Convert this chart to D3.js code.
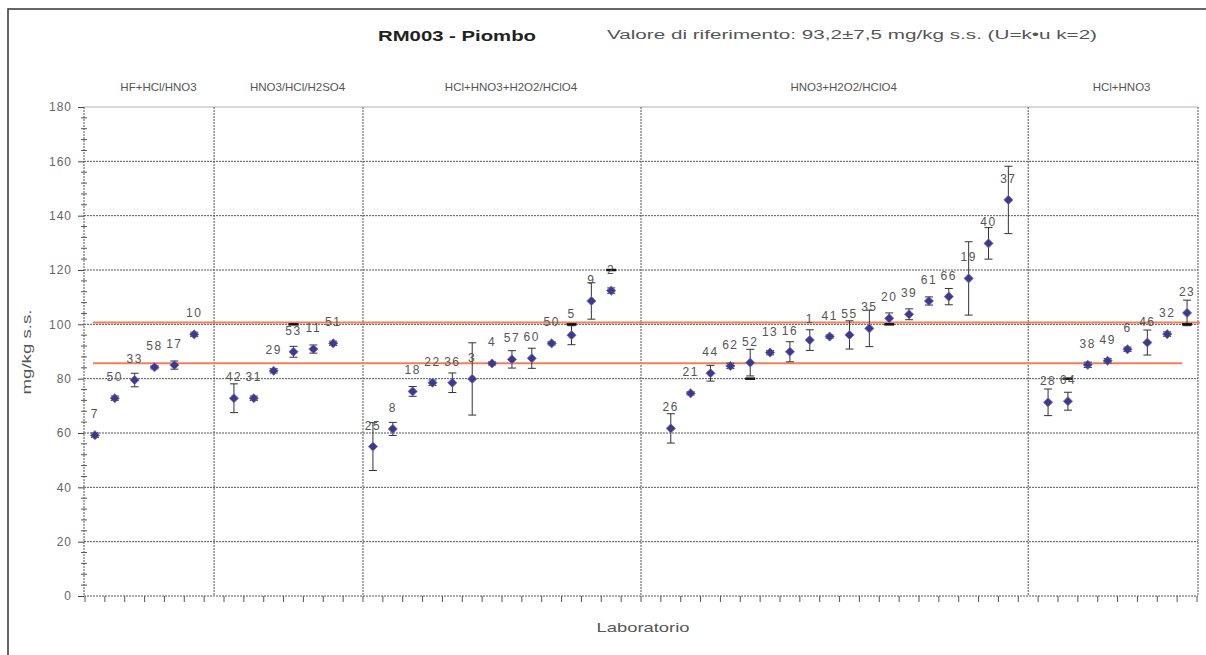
<!DOCTYPE html>
<html>
<head>
<meta charset="utf-8">
<script src="https://cdn.jsdelivr.net/npm/d3@7"></script>
<style>
  html, body { margin: 0; padding: 0; background: #fff; }
  svg { display: block; }
  text { font-family: "Liberation Sans", Arial, sans-serif; }
</style>
</head>
<body>
<svg id="chart" width="1206" height="655"></svg>
<script>
// Digestion methods, in the order they appear along the axis
const methods = ["HF+HCl/HNO3", "HNO3/HCl/H2SO4", "HCl+HNO3+H2O2/HClO4", "HNO3+H2O2/HClO4", "HCl+HNO3"];

// One entry per category slot on the x axis ("" = empty slot between methods)
const labs = [
  "7", "50", "33", "58", "17", "10", "",
  "42", "31", "29", "53", "11", "51", "",
  "25", "8", "18", "22", "36", "3", "4", "57", "60", "50", "5", "9", "2", "", "",
  "26", "21", "44", "62", "52", "13", "16", "1", "41", "55", "35", "20", "39", "61", "66", "19", "40", "37", "",
  "28", "64", "38", "49", "6", "46", "32", "23"
];

// Lead results, mg/kg s.s.
const values = [
  59.2, 72.8, 79.5, 84.2, 85.0, 96.3, null,
  72.8, 72.8, 82.9, 89.9, 90.9, 93.0, null,
  55.0, 61.5, 75.3, 78.5, 78.5, 79.9, 85.6, 87.1, 87.5, 93.0, 96.0, 108.6, 112.4, null, null,
  61.7, 74.6, 82.0, 84.7, 85.9, 89.6, 89.9, 94.2, 95.5, 96.1, 98.5, 102.2, 103.7, 108.6, 110.2, 116.9, 129.8, 145.8, null,
  71.3, 71.7, 85.1, 86.6, 90.8, 93.3, 96.4, 104.2
];

// Expanded uncertainties, mg/kg s.s.
const uncertainties = [
  0.8, 0.8, 2.5, 0.6, 1.5, 0.8, null,
  5.3, 0.8, 0.8, 2.0, 1.5, 0.8, null,
  8.8, 2.4, 1.8, 1.0, 3.6, 13.3, 0.6, 3.2, 3.7, 0.6, 3.5, 6.7, 1.0, null, null,
  5.4, 0.6, 2.9, 1.0, 4.9, 0.8, 3.7, 3.8, 0.6, 5.2, 6.7, 2.0, 2.0, 1.5, 3.0, 13.5, 5.8, 12.4, null,
  4.9, 3.3, 1.0, 0.8, 0.8, 4.6, 0.8, 4.7
];

// Short black marks drawn on some results
const flagLabs = ["53", "5", "2", "52", "20", "23", "64"];
const flagValues = [100, 100, 120, 80, 100, 100, 80];

// Method dividers, in slot units
const dividers = [6, 13.5, 27.5, 47];

// Reference value and its interval
const refValue = 93.2;
const refU = 7.5;

const yTicks = [0, 20, 40, 60, 80, 100, 120, 140, 160, 180];

const svg = d3.select("#chart");
const W = 1206, H = 655;
const plotL = 85, plotR = 1197, plotT = 107, plotB = 596;

const x = d3.scaleLinear().domain([-0.5, labs.length - 0.5]).range([plotL, plotR]);
const y = d3.scaleLinear().domain([0, 180]).range([plotB, plotT]);

// outer frame
svg.append("rect").attr("x", 8).attr("y", 9).attr("width", W + 10).attr("height", H + 10)
  .attr("fill", "none").attr("stroke", "#333").attr("stroke-width", 1.5);

const grid = svg.append("g");
// horizontal grid
yTicks.forEach(t => {
  grid.append("line")
    .attr("x1", plotL - 1).attr("x2", plotR + 1)
    .attr("y1", y(t)).attr("y2", y(t))
    .attr("stroke", t === 180 ? "#d4c8c8" : "#555")
    .attr("stroke-width", t === 180 ? 1.5 : 1)
    .attr("stroke-dasharray", t === 180 ? null : "2,1");
});
// vertical lines: axis, dividers, right edge
[plotL - 1, ...dividers.map(d => x(d)), plotR + 1].forEach(px => {
  grid.append("line")
    .attr("x1", px).attr("x2", px)
    .attr("y1", y(180)).attr("y2", y(0))
    .attr("stroke", "#555").attr("stroke-dasharray", "2,1");
});

// y axis
const yAxis = d3.axisLeft(y).tickValues(yTicks).tickSize(6).tickPadding(6);
const yg = svg.append("g").attr("transform", `translate(${plotL - 1},0)`).call(yAxis);
yg.select(".domain").remove();
yg.selectAll("line").attr("stroke", "#444");
yg.selectAll("text").attr("fill", "#666").attr("font-size", 12).style("letter-spacing", "1px")
  .style("font-family", "'Liberation Sans', Arial, sans-serif");
// minor ticks every 4 units
const minor = d3.range(0, 181, 4).filter(v => v % 20 !== 0);
svg.append("g").selectAll("line").data(minor).join("line")
  .attr("x1", plotL - 4).attr("x2", plotL + 2)
  .attr("y1", d => y(d)).attr("y2", d => y(d))
  .attr("stroke", "#555");

// x axis ticks at slot boundaries
const xb = d3.range(0, labs.length + 1).map(i => i - 0.5);
svg.append("g").selectAll("line").data(xb).join("line")
  .attr("x1", d => x(d)).attr("x2", d => x(d))
  .attr("y1", y(0)).attr("y2", y(0) + 6)
  .attr("stroke", "#555");

// reference interval lines
const refColor = "#f0805a";
svg.append("line").attr("x1", x(0) - 2).attr("x2", plotR + 3)
  .attr("y1", y(refValue + refU)).attr("y2", y(refValue + refU))
  .attr("stroke", refColor).attr("stroke-width", 2);
svg.append("line").attr("x1", x(0) - 2).attr("x2", x(labs.length - 1) - 5)
  .attr("y1", y(refValue - refU)).attr("y2", y(refValue - refU))
  .attr("stroke", refColor).attr("stroke-width", 2);

const pts = labs.map((lab, i) => ({ lab, i, v: values[i], u: uncertainties[i] }))
  .filter(d => d.v != null);

// error bars
const eb = svg.append("g").attr("stroke", "#333").attr("stroke-width", 1);
pts.forEach(d => {
  const cx = x(d.i);
  eb.append("line").attr("x1", cx).attr("x2", cx).attr("y1", y(d.v - d.u)).attr("y2", y(d.v + d.u));
  [d.v - d.u, d.v + d.u].forEach(e => {
    eb.append("line").attr("x1", cx - 4).attr("x2", cx + 4).attr("y1", y(e)).attr("y2", y(e));
  });
});

// black marks
flagLabs.forEach((lab, k) => {
  const i = labs.indexOf(lab);
  svg.append("line").attr("x1", x(i) - 5).attr("x2", x(i) + 5)
    .attr("y1", y(flagValues[k])).attr("y2", y(flagValues[k]))
    .attr("stroke", "#111").attr("stroke-width", 2.5);
});

// markers: square diamonds
svg.append("g").selectAll("path").data(pts).join("path")
  .attr("d", d3.symbol(d3.symbolSquare, 42))
  .attr("transform", d => `translate(${x(d.i)},${y(d.v)}) rotate(45)`)
  .attr("fill", "#3d3a8c").attr("stroke", "#7470b8").attr("stroke-width", 0.8);

// lab codes above markers
svg.append("g").selectAll("text").data(pts).join("text")
  .attr("x", d => x(d.i)).attr("y", d => y(d.v) - 17)
  .attr("text-anchor", "middle").attr("font-size", 12).style("letter-spacing", "1.5px")
  .attr("fill", "#555").text(d => d.lab);

// method headers
const bounds = [-0.5, ...dividers, labs.length - 0.5];
methods.forEach((m, k) => {
  svg.append("text")
    .attr("x", (x(bounds[k]) + x(bounds[k + 1])) / 2 + 9)
    .attr("y", 91).attr("text-anchor", "middle")
    .attr("font-size", 11.5).attr("fill", "#555").text(m);
});

// titles
svg.append("text").attr("x", 457).attr("y", 41).attr("text-anchor", "middle")
  .attr("font-size", 14).attr("font-weight", "bold").attr("fill", "#222")
  .attr("textLength", 158).attr("lengthAdjust", "spacingAndGlyphs").text("RM003 - Piombo");
svg.append("text").attr("x", 607).attr("y", 39)
  .attr("font-size", 12.5).attr("fill", "#555")
  .attr("textLength", 490).attr("lengthAdjust", "spacingAndGlyphs")
  .text("Valore di riferimento: 93,2±7,5 mg/kg s.s. (U=k•u  k=2)");

// axis titles
svg.append("text").attr("transform", "translate(31,352) rotate(-90)")
  .attr("text-anchor", "middle").attr("font-size", 12).attr("fill", "#555")
  .attr("textLength", 85).attr("lengthAdjust", "spacingAndGlyphs").text("mg/kg s.s.");
svg.append("text").attr("x", 643).attr("y", 632).attr("text-anchor", "middle")
  .attr("font-size", 13).attr("fill", "#555")
  .attr("textLength", 93).attr("lengthAdjust", "spacingAndGlyphs").text("Laboratorio");
</script>
</body>
</html>
